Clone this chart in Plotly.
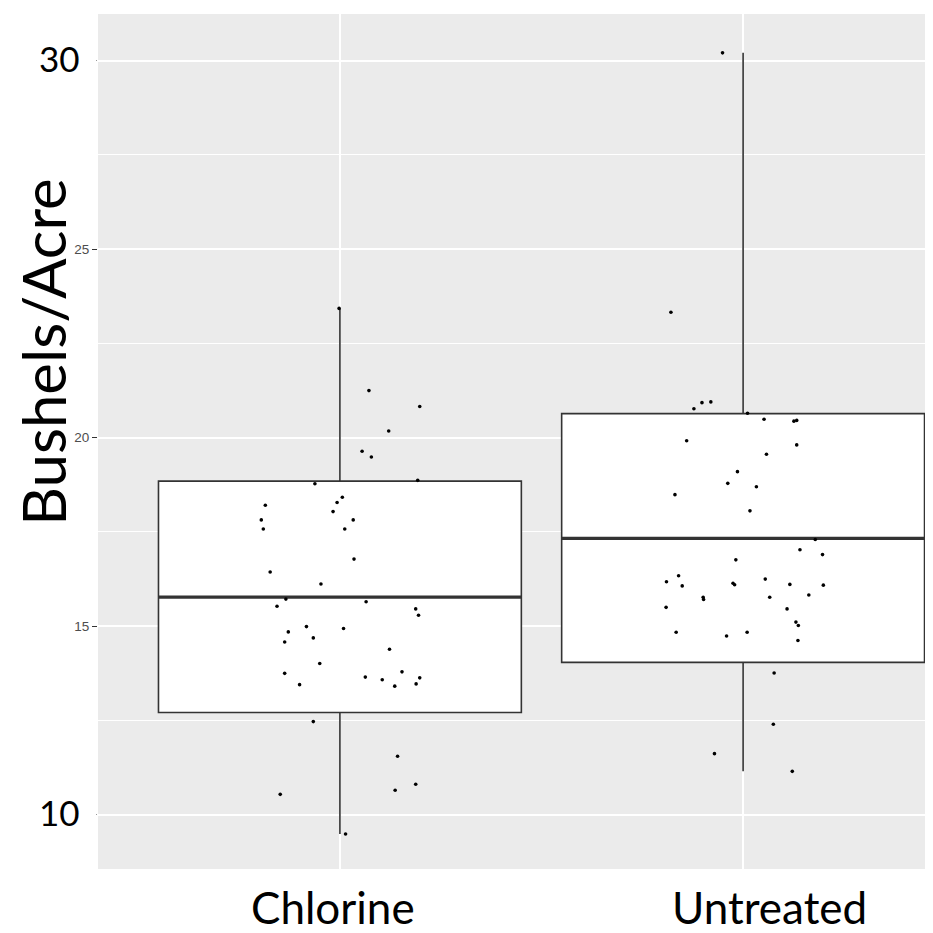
import plotly.graph_objects as go

# ---------------- data ----------------
categories = ["Chlorine", "Untreated"]

chlorine_y = [23.43, 21.25, 20.83, 20.18, 19.64, 19.49, 18.87, 18.78, 18.42, 18.28,
              18.21, 18.04, 17.82, 17.82, 17.58, 17.58, 16.78, 16.44, 16.12, 15.72,
              15.53, 15.65, 15.46, 15.29, 14.99, 14.85, 14.94, 14.69, 14.58, 14.39,
              14.01, 13.75, 13.79, 13.65, 13.58, 13.63, 13.45, 13.41, 13.47, 12.47,
              11.55, 10.81, 10.65, 10.54, 9.49]
chlorine_jitter = [-0.002, 0.072, 0.198, 0.121, 0.055, 0.078, 0.193, -0.062, 0.006, -0.007,
                   -0.185, -0.017, -0.195, 0.033, -0.190, 0.012, 0.035, -0.173, -0.047, -0.134,
                   -0.156, 0.065, 0.188, 0.195, -0.083, -0.128, 0.009, -0.066, -0.137, 0.123,
                   -0.050, -0.137, 0.154, 0.063, 0.105, 0.198, -0.100, 0.136, 0.189, -0.066,
                   0.143, 0.188, 0.137, -0.148, 0.014]

untreated_y = [30.21, 23.33, 20.77, 20.93, 20.95, 20.65, 20.49, 20.44, 20.46, 19.92,
               19.81, 19.56, 19.10, 18.79, 18.70, 18.49, 18.06, 17.30, 17.03, 16.90,
               16.76, 16.34, 16.18, 16.07, 16.14, 16.10, 16.25, 16.11, 16.09, 15.77,
               15.71, 15.77, 15.83, 15.50, 15.46, 15.11, 15.02, 14.84, 14.74, 14.84,
               14.62, 13.76, 12.40, 11.62, 11.15]
untreated_jitter = [-0.051, -0.179, -0.122, -0.102, -0.080, 0.011, 0.052, 0.126, 0.133, -0.140,
                    0.133, 0.058, -0.014, -0.038, 0.033, -0.169, 0.017, 0.179, 0.141, 0.197,
                    -0.018, -0.160, -0.190, -0.151, -0.025, -0.021, 0.055, 0.116, 0.199, -0.099,
                    -0.098, 0.066, 0.163, -0.191, 0.109, 0.131, 0.137, -0.166, -0.041, 0.010,
                    0.136, 0.077, 0.075, -0.071, 0.122]

# box statistics
q1 = [12.71, 14.04]
median = [15.77, 17.33]
q3 = [18.85, 20.64]
lowerfence = [9.49, 11.15]
upperfence = [23.43, 30.21]

y_tick_vals = [10, 15, 20, 25, 30]
y_tick_text = ["", "15", "20", "25", ""]
big_y_labels = [30, 10]
x_label_offsets = [-0.017, 0.065]
y_title = "Bushels/Acre"

# ---------------- figure ----------------
BOX_W = 0.9
LINE = "#333333"
fig = go.Figure()

for i, cat in enumerate(categories):
    fig.add_trace(go.Box(
        x=[i], q1=[q1[i]], median=[median[i]], q3=[q3[i]],
        lowerfence=[lowerfence[i]], upperfence=[upperfence[i]],
        width=BOX_W, whiskerwidth=0, boxpoints=False,
        fillcolor="white", line=dict(color=LINE, width=1.6),
        showlegend=False, hoverinfo="skip"))
    # thicker median line (ggplot style)
    fig.add_trace(go.Scatter(
        x=[i - BOX_W / 2, i + BOX_W / 2], y=[median[i], median[i]],
        mode="lines", line=dict(color=LINE, width=3.2),
        showlegend=False, hoverinfo="skip"))

for i, (ys, js) in enumerate([(chlorine_y, chlorine_jitter), (untreated_y, untreated_jitter)]):
    fig.add_trace(go.Scatter(
        x=[i + j for j in js], y=ys, mode="markers",
        marker=dict(color="black", size=3.6),
        showlegend=False, hoverinfo="skip"))

BIG_FONT = "Lato, 'Open Sans', sans-serif"
annotations = []
for v in big_y_labels:
    annotations.append(dict(
        text=str(v), xref="paper", yref="y", x=-0.0012, y=v, yshift=3,
        xanchor="right", yanchor="middle", width=57, align="left",
        bgcolor="white", borderpad=0, showarrow=False,
        font=dict(family=BIG_FONT, size=35, color="black")))
for i, cat in enumerate(categories):
    annotations.append(dict(
        text=cat, xref="x", yref="paper", x=i + x_label_offsets[i], y=-0.0444,
        xanchor="center", yanchor="middle", showarrow=False,
        font=dict(family=BIG_FONT, size=44, color="black")))
annotations.append(dict(
    text=y_title, xref="paper", yref="paper", x=-0.0659, y=0.605,
    xanchor="center", yanchor="middle", textangle=-90, showarrow=False,
    font=dict(family=BIG_FONT, size=60, color="black")))

# the page body has an 8px margin, so the figure is 925px and offset by it
fig.update_layout(
    width=925, height=925,
    margin=dict(l=90, r=0, t=6, b=64, pad=0),
    paper_bgcolor="white", plot_bgcolor="#EBEBEB",
    annotations=annotations,
    xaxis=dict(range=[-0.6, 1.471], tickvals=[0, 1], showticklabels=False,
               ticks="", showgrid=True, gridcolor="white", gridwidth=2,
               zeroline=False, showline=False, fixedrange=True),
    yaxis=dict(range=[8.56, 31.24], tickvals=y_tick_vals, ticktext=y_tick_text,
               ticks="outside", ticklen=5, tickwidth=1.2, tickcolor="#333333",
               tickfont=dict(family="Liberation Sans, Arial, sans-serif", size=13.5, color="#4D4D4D"),
               showgrid=True, gridcolor="white", gridwidth=2,
               minor=dict(dtick=2.5, tick0=10, showgrid=True, gridcolor="white", gridwidth=1),
               zeroline=False, showline=False, fixedrange=True),
)

fig.write_html("out.html")
